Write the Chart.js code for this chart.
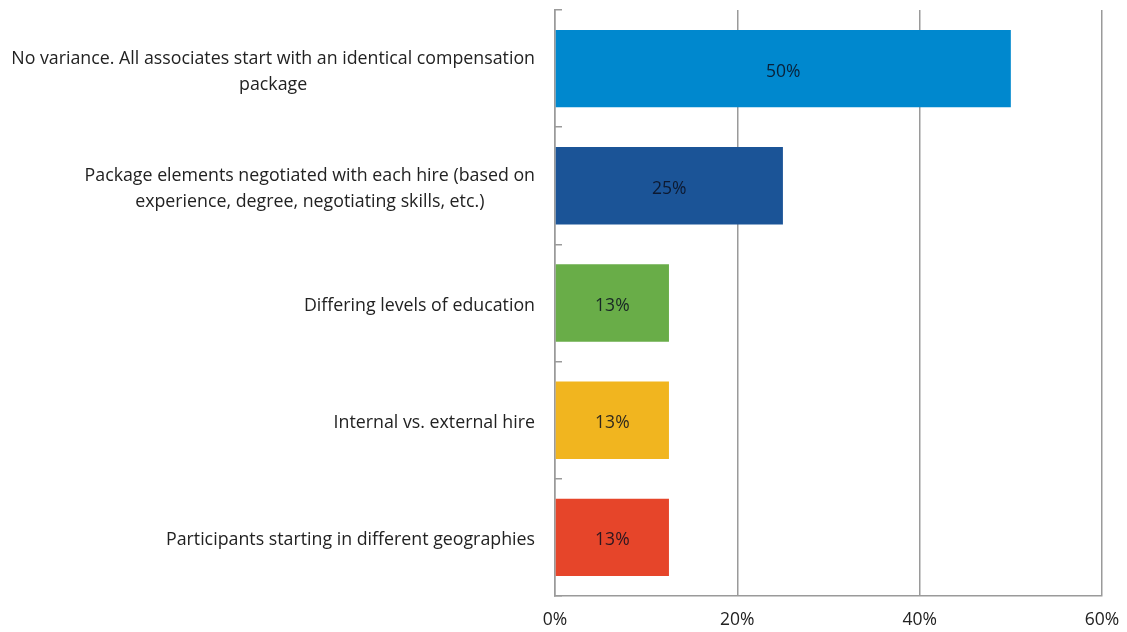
<!DOCTYPE html>
<html>
<head>
<meta charset="utf-8">
<script src="https://cdn.jsdelivr.net/npm/chart.js@4"></script>
<style>
  html, body { margin: 0; padding: 0; background: #fff; }
  #wrap { width: 1127px; height: 632px; }
</style>
</head>
<body>
<div id="wrap"><canvas id="chart"></canvas></div>
<script>
const categories = [
  ['No variance. All associates start with an identical compensation', 'package'],
  ['Package elements negotiated with each hire (based on', 'experience, degree, negotiating skills, etc.)'],
  ['Differing levels of education'],
  ['Internal vs. external hire'],
  ['Participants starting in different geographies']
];
const values = [50, 25, 12.5, 12.5, 12.5];
const barColors = ['#0088CE', '#1B5497', '#69AD48', '#F1B51F', '#E6452A'];
const xTicks = [0, 20, 40, 60];

// value text in the middle of each bar
const barLabels = {
  id: 'barLabels',
  afterDatasetsDraw(chart) {
    const ctx = chart.ctx;
    const meta = chart.getDatasetMeta(0);
    ctx.save();
    ctx.font = '17.5px "Open Sans"';
    ctx.fillStyle = 'rgba(10,15,30,0.85)';
    ctx.textAlign = 'center';
    ctx.textBaseline = 'middle';
    meta.data.forEach((bar, i) => {
      const x = (bar.x + bar.base) / 2;
      ctx.fillText(Math.round(values[i]) + '%', x, bar.y + 3);
    });
    ctx.restore();
  }
};

// category names, wrapped lines centred on each other like in the original
const catLabels = {
  id: 'catLabels',
  afterDraw(chart) {
    const ctx = chart.ctx;
    const y = chart.scales.y;
    const rightEdge = y.right - 20;
    const lineH = 26;
    ctx.save();
    ctx.font = '17.8px "Open Sans"';
    ctx.fillStyle = '#222';
    ctx.textAlign = 'center';
    ctx.textBaseline = 'middle';
    categories.forEach((lines, i) => {
      const w = Math.max(...lines.map(s => ctx.measureText(s).width));
      const cx = rightEdge - w / 2;
      const cy = y.getPixelForValue(i) + 3;
      lines.forEach((s, k) => {
        ctx.fillText(s, cx, cy + (k - (lines.length - 1) / 2) * lineH);
      });
    });
    ctx.restore();
  }
};

new Chart(document.getElementById('chart'), {
  type: 'bar',
  data: {
    labels: categories.map(l => l.join(' ')),
    datasets: [{
      data: values,
      backgroundColor: barColors,
      borderWidth: 0,
      categoryPercentage: 0.66,
      barPercentage: 1
    }]
  },
  options: {
    indexAxis: 'y',
    responsive: true,
    maintainAspectRatio: false,
    animation: false,
    layout: { padding: { top: 10, right: 25, left: 0, bottom: 0 } },
    plugins: { legend: { display: false }, tooltip: { enabled: false } },
    scales: {
      x: {
        min: 0,
        max: 60,
        afterBuildTicks(scale) { scale.ticks = xTicks.map(v => ({ value: v })); },
        afterFit(scale) { scale.height = 36; scale.paddingLeft = 0; scale.paddingRight = 0; },
        grid: { color: '#9a9a9a', lineWidth: 1.5, drawTicks: false },
        border: { display: true, color: '#9a9a9a', width: 1.5 },
        ticks: {
          padding: 14,
          color: '#222',
          font: { family: 'Open Sans', size: 17.5 },
          callback: v => v + '%'
        }
      },
      y: {
        afterFit(scale) { scale.width = 555; scale.paddingTop = 0; scale.paddingBottom = 0; },
        grid: { offset: true, drawOnChartArea: false, tickLength: -7, color: '#9a9a9a', lineWidth: 1.5 },
        border: { display: true, color: '#9a9a9a', width: 1.5 },
        ticks: { display: false }
      }
    }
  },
  plugins: [barLabels, catLabels]
});
</script>
</body>
</html>
